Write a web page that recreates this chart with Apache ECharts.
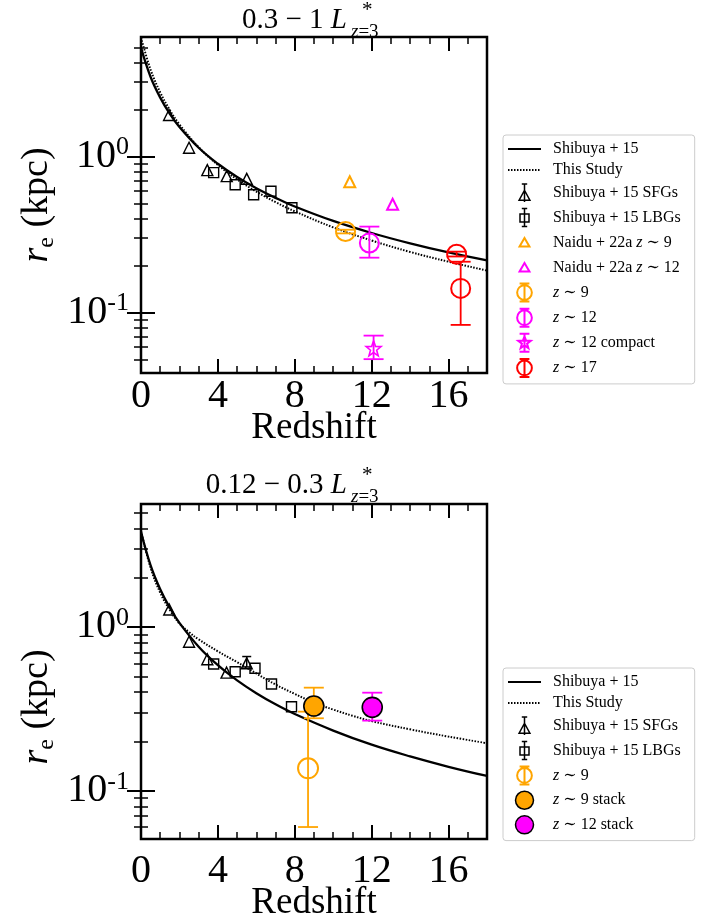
<!DOCTYPE html>
<html><head><meta charset="utf-8">
<script src="https://cdn.jsdelivr.net/npm/echarts@6/dist/echarts.min.js"></script>
<style>html,body{margin:0;padding:0;background:#fff}#c{width:705px;height:919px}</style>
</head><body><div id="c"></div>
<script>
// ---------------- data: top panel (0.3-1 L*) ----------------
const curveZTop = [0,0.5,1,1.5,2,3,4,5,6,7,8,10,12,14,16,18];
const shibTop   = [5.0,3.24,2.39,1.88,1.55,1.14,0.90,0.74,0.627,0.544,0.479,0.387,0.324,0.278,0.243,0.216];
const studyTop  = [5.8,3.61,2.58,1.99,1.61,1.15,0.885,0.715,0.597,0.511,0.446,0.352,0.290,0.245,0.212,0.186];
const sfgZTop = [1.46,2.50,3.45,4.46,5.50];
const sfgRTop = [1.85,1.14,0.82,0.75,0.72];
const lbgZTop = [3.78,4.90,5.86,6.76,7.85];
const lbgRTop = [0.79,0.66,0.57,0.60,0.47];
const naidu9Z = [10.86], naidu9R = [0.69];
const naidu12Z = [13.09], naidu12R = [0.495];
const z9ZTop = [10.64], z9RTop = [0.331], z9LoTop = [0.322], z9HiTop = [0.340];
const z12ZTop = [11.88], z12RTop = [0.279], z12LoTop = [0.225], z12HiTop = [0.356];
const z12cZ = [12.10], z12cR = [0.059], z12cLo = [0.0503], z12cHi = [0.0712];
const z17Z = [16.42,16.63], z17R = [0.237,0.143], z17Lo = [0.229,0.0834], z17Hi = [0.246,0.212];

// ---------------- data: bottom panel (0.12-0.3 L*) ----------------
const curveZBot = [0,0.5,1,1.5,2,3,4,5,6,7,8,10,12,14,16,18];
const shibBot   = [3.82,2.38,1.70,1.31,1.06,0.758,0.584,0.472,0.394,0.337,0.294,0.233,0.191,0.162,0.140,0.123];
const studyZBot = [0,0.5,1,1.5,2,2.5,3,4,5,6,7,8,9,10,11,12,14,16,18];
const studyBot  = [3.85,2.30,1.62,1.27,1.05,0.93,0.84,0.71,0.61,0.52,0.445,0.39,0.345,0.313,0.287,0.266,0.237,0.214,0.195];
const sfgZBot = [1.47,2.50,3.45,4.45,5.50];
const sfgRBot = [1.28,0.813,0.635,0.526,0.600];
const sfgErrZBot = [5.50], sfgErrLoBot = [0.57], sfgErrHiBot = [0.66];
const lbgZBot = [3.78,4.90,5.93,6.79,7.83];
const lbgRBot = [0.594,0.533,0.560,0.449,0.326];
const z9ZBot = [8.69], z9RBot = [0.137], z9LoBot = [0.060], z9HiBot = [0.304];
const z9sZ = [8.99], z9sR = [0.329], z9sLo = [0.277], z9sHi = [0.426];
const z12sZ = [12.03], z12sR = [0.323], z12sLo = [0.268], z12sHi = [0.397];

// ---------------- ticks / ranges ----------------
const xMajor = [0,4,8,12,16];
const xMinor = [1,2,3,5,6,7,9,10,11,13,14,15,17];
const yMajor = [0.1,1];
const yMinor = [0.05,0.06,0.07,0.08,0.09,0.2,0.3,0.4,0.5,0.6,0.7,0.8,0.9,2,3,4,5];
const X_RANGE = [0,18];
const Y_TOP = [0.041,5.85];
const Y_BOT = [0.0507,5.64];

// ---------------- styles ----------------
const FONT = '"Liberation Serif","DejaVu Serif",serif';
const ORANGE = '#FFA500', MAGENTA = '#FF00FF', RED = '#FF0000', BLACK = '#000000';
const STAR = 'path://M10 2L11.94 7.33L17.61 7.53L13.14 11.02L14.7 16.47L10 13.3L5.3 16.47L6.86 11.02L2.39 7.53L8.06 7.33Z';
const ICON_TRI_ERR = 'path://M8 0L8 20M5 0L11 0M8 7L14 18L2 18Z';
const ICON_SQ_ERR = 'path://M8 0L8 20M5 0L11 0M5 20L11 20M3 6L13 6L13 15L3 15Z';
const ICON_CIRC_ERR = 'path://M10 0L10 22M4 0L16 0M4 22L16 22M1 11A9 9 0 1 1 19 11A9 9 0 1 1 1 11Z';
const ICON_STAR_ERR = 'path://M10 0L10 22M4 0L16 0M4 22L16 22M10 3L11.94 8.33L17.61 8.53L13.14 12.02L14.7 17.47L10 14.3L5.3 17.47L6.86 12.02L2.39 8.53L8.06 8.33Z';
const ICON_SMALL_TRI = 'path://M0 0M20 20M10 5L15.5 14.5L4.5 14.5Z';

const zip2 = (a,b) => a.map((v,i)=>[v,b[i]]);
const zip3 = (a,b,c) => a.map((v,i)=>[v,b[i],c[i]]);

function xAxes(g, labelMargin, nameGap) {
  const base = {type:'value', gridIndex:g, min:X_RANGE[0], max:X_RANGE[1], splitLine:{show:false}, axisLine:{show:false}, minorTick:{show:false}};
  const major = {show:true, inside:true, length:14, customValues:xMajor, lineStyle:{color:BLACK,width:2}};
  const minor = {show:true, inside:true, length:7, customValues:xMinor, lineStyle:{color:BLACK,width:1.5}};
  return [
    Object.assign({}, base, {position:'bottom', axisTick:major,
      axisLabel:{show:true, customValues:xMajor, margin:labelMargin, fontSize:40, fontFamily:FONT, color:BLACK},
      name:'Redshift', nameLocation:'middle', nameGap:nameGap, nameMoveOverlap:false,
      nameTextStyle:{fontSize:37, fontFamily:FONT, color:BLACK}}),
    Object.assign({}, base, {position:'top', axisTick:major, axisLabel:{show:false}}),
    Object.assign({}, base, {position:'bottom', axisTick:minor, axisLabel:{show:false}}),
    Object.assign({}, base, {position:'top', axisTick:minor, axisLabel:{show:false}})
  ];
}
function yAxes(g, ext) {
  const base = {type:'log', logBase:10, gridIndex:g, min:ext[0], max:ext[1], splitLine:{show:false}, axisLine:{show:false}, minorTick:{show:false}};
  const major = {show:true, inside:true, length:14, customValues:yMajor, lineStyle:{color:BLACK,width:2}};
  const minor = {show:true, inside:true, length:7, customValues:yMinor, lineStyle:{color:BLACK,width:1.5}};
  return [
    Object.assign({}, base, {position:'left', axisTick:major,
      axisLabel:{show:true, customValues:yMajor, margin:12, color:BLACK,
        formatter: v => v < 0.5 ? '{b|10}{s|-1}' : '{b|10}{s|0}',
        rich:{b:{fontSize:40, fontFamily:FONT, color:BLACK, lineHeight:44},
              s:{fontSize:26, fontFamily:FONT, color:BLACK, lineHeight:22, verticalAlign:'top'}}}}),
    Object.assign({}, base, {position:'right', axisTick:major, axisLabel:{show:false}}),
    Object.assign({}, base, {position:'left', axisTick:minor, axisLabel:{show:false}}),
    Object.assign({}, base, {position:'right', axisTick:minor, axisLabel:{show:false}})
  ];
}

function lineSeries(name, g, xs, ys, dotted) {
  return {type:'line', name, xAxisIndex:4*g, yAxisIndex:4*g, data:zip2(xs,ys), smooth:0.4, showSymbol:false, symbol:'none',
    lineStyle:{color:BLACK, width: dotted ? 2 : 2.3, type: dotted ? [1.5,1.5] : 'solid'}, itemStyle:{color:BLACK}, z:2, silent:true};
}
function scatterSeries(name, g, xs, ys, symbol, size, color, fill, bw) {
  return {type:'scatter', name, xAxisIndex:4*g, yAxisIndex:4*g, data:zip2(xs,ys), symbol, symbolSize:size,
    itemStyle:{color: fill || 'transparent', borderColor:color, borderWidth:bw, opacity:1}, z:5, silent:true};
}
function errSeries(name, g, xs, lo, hi, color, cap, lw) {
  return {type:'custom', name, xAxisIndex:4*g, yAxisIndex:4*g, data:zip3(xs,lo,hi), z:4, silent:true,
    renderItem: function(params, api) {
      const x = api.value(0);
      const p1 = api.coord([x, api.value(1)]);
      const p2 = api.coord([x, api.value(2)]);
      const st = {stroke:color, lineWidth:lw};
      return {type:'group', children:[
        {type:'line', shape:{x1:p1[0], y1:p1[1], x2:p2[0], y2:p2[1]}, style:st},
        {type:'line', shape:{x1:p1[0]-cap/2, y1:p1[1], x2:p1[0]+cap/2, y2:p1[1]}, style:st},
        {type:'line', shape:{x1:p2[0]-cap/2, y1:p2[1], x2:p2[0]+cap/2, y2:p2[1]}, style:st}
      ]};
    }};
}

const LABELS = {
  tShib:'{g| }{n|Shibuya + 15}', tStudy:'{g| }{n|This Study}',
  tSFG:'{g| }{n|Shibuya + 15 SFGs}', tLBG:'{g| }{n|Shibuya + 15 LBGs}',
  tN9:'{g| }{n|Naidu + 22a }{i|z}{n| ∼ 9}', tN12:'{g| }{n|Naidu + 22a }{i|z}{n| ∼ 12}',
  tZ9:'{g| }{i|z}{n| ∼ 9}', tZ12:'{g| }{i|z}{n| ∼ 12}', tZ12c:'{g| }{i|z}{n| ∼ 12 compact}', tZ17:'{g| }{i|z}{n| ∼ 17}',
  bShib:'{g| }{n|Shibuya + 15}', bStudy:'{g| }{n|This Study}',
  bSFG:'{g| }{n|Shibuya + 15 SFGs}', bLBG:'{g| }{n|Shibuya + 15 LBGs}',
  bZ9:'{g| }{i|z}{n| ∼ 9}', bZ9s:'{g| }{i|z}{n| ∼ 9 stack}', bZ12s:'{g| }{i|z}{n| ∼ 12 stack}'
};
const legendText = {fontSize:16, fontFamily:FONT, color:BLACK,
  rich:{g:{width:7}, n:{fontSize:16, fontFamily:FONT, color:BLACK}, i:{fontSize:16, fontFamily:FONT, fontStyle:'italic', color:BLACK}}};
const hollow = (c, w) => ({color:'transparent', borderColor:c, borderWidth:w});
const noSym = {opacity:0};
function legend(top, items) {
  return {orient:'vertical', left:503, top:top, itemWidth:33, itemHeight:18, itemGap:5.1,
    padding:[6,14,6,4], backgroundColor:'#fff', borderColor:'#cccccc', borderWidth:1, borderRadius:3,
    selectedMode:false, data:items, formatter: n => LABELS[n], textStyle:legendText};
}
const legendTop = legend(135, [
  {name:'tShib', itemStyle:noSym}, {name:'tStudy', itemStyle:noSym},
  {name:'tSFG', icon:ICON_TRI_ERR, itemStyle:hollow(BLACK,1.5)},
  {name:'tLBG', icon:ICON_SQ_ERR, itemStyle:hollow(BLACK,1.5)},
  {name:'tN9', icon:ICON_SMALL_TRI, itemStyle:hollow(ORANGE,2)},
  {name:'tN12', icon:ICON_SMALL_TRI, itemStyle:hollow(MAGENTA,2)},
  {name:'tZ9', icon:ICON_CIRC_ERR, itemStyle:hollow(ORANGE,2)},
  {name:'tZ12', icon:ICON_CIRC_ERR, itemStyle:hollow(MAGENTA,2)},
  {name:'tZ12c', icon:ICON_STAR_ERR, itemStyle:hollow(MAGENTA,2)},
  {name:'tZ17', icon:ICON_CIRC_ERR, itemStyle:hollow(RED,2)}
]);
const legendBot = legend(668, [
  {name:'bShib', itemStyle:noSym}, {name:'bStudy', itemStyle:noSym},
  {name:'bSFG', icon:ICON_TRI_ERR, itemStyle:hollow(BLACK,1.5)},
  {name:'bLBG', icon:ICON_SQ_ERR, itemStyle:hollow(BLACK,1.5)},
  {name:'bZ9', icon:ICON_CIRC_ERR, itemStyle:hollow(ORANGE,2)},
  {name:'bZ9s', icon:'circle', itemStyle:{color:ORANGE, borderColor:BLACK, borderWidth:1.5}},
  {name:'bZ12s', icon:'circle', itemStyle:{color:MAGENTA, borderColor:BLACK, borderWidth:1.5}}
]);

function titleGraphics(y, main) {
  return [
    {type:'text', x:347, y:y, style:{text:'{n|'+main+'}{i|L}', align:'right', verticalAlign:'middle',
      rich:{n:{fontSize:29, fontFamily:FONT, fill:BLACK}, i:{fontSize:29, fontFamily:FONT, fontStyle:'italic', fill:BLACK}}}},
    {type:'text', x:362, y:y-10, style:{text:'*', fontSize:21, fontFamily:FONT, fill:BLACK, align:'left', verticalAlign:'middle'}},
    {type:'text', x:351, y:y+12, style:{text:'{i|z}{n|=3}', align:'left', verticalAlign:'middle',
      rich:{n:{fontSize:19, fontFamily:FONT, fill:BLACK}, i:{fontSize:19, fontFamily:FONT, fontStyle:'italic', fill:BLACK}}}}
  ];
}
function ylabelGraphic(x, y) {
  return {type:'text', x:x, y:y, rotation:Math.PI/2, style:{text:'{r|r}{e|e}{n| (kpc)}', align:'center', verticalAlign:'middle',
    rich:{r:{fontSize:38, fontFamily:FONT, fontStyle:'italic', fill:BLACK, lineHeight:44},
          e:{fontSize:24, fontFamily:FONT, fill:BLACK, lineHeight:14, verticalAlign:'bottom'},
          n:{fontSize:38, fontFamily:FONT, fill:BLACK, lineHeight:44}}}};
}

const option = {
  animation:false,
  backgroundColor:'#ffffff',
  grid:[
    {left:141, top:37, width:346, height:336, show:true, borderColor:BLACK, borderWidth:2.5, backgroundColor:'transparent', z:10, outerBoundsMode:'none', containLabel:false},
    {left:141, top:504, width:346, height:335, show:true, borderColor:BLACK, borderWidth:2.5, backgroundColor:'transparent', z:10, outerBoundsMode:'none', containLabel:false}
  ],
  xAxis: [].concat(xAxes(0, 3, 37), xAxes(1, 12, 46)),
  yAxis: [].concat(yAxes(0, Y_TOP), yAxes(1, Y_BOT)),
  legend:[legendTop, legendBot],
  graphic:[].concat(titleGraphics(20,'0.3 − 1 '), titleGraphics(485,'0.12 − 0.3 '), [ylabelGraphic(37,205), ylabelGraphic(37,707)]),
  series:[
    lineSeries('tShib', 0, curveZTop, shibTop, false),
    lineSeries('tStudy', 0, curveZTop, studyTop, true),
    scatterSeries('tSFG', 0, sfgZTop, sfgRTop, 'triangle', 11, BLACK, null, 1.4),
    scatterSeries('tLBG', 0, lbgZTop, lbgRTop, 'rect', 10, BLACK, null, 1.4),
    scatterSeries('tN9', 0, naidu9Z, naidu9R, 'triangle', 11, ORANGE, null, 2),
    scatterSeries('tN12', 0, naidu12Z, naidu12R, 'triangle', 11, MAGENTA, null, 2),
    errSeries('eZ9t', 0, z9ZTop, z9LoTop, z9HiTop, ORANGE, 20, 1.8),
    errSeries('eZ12t', 0, z12ZTop, z12LoTop, z12HiTop, MAGENTA, 20, 1.8),
    errSeries('eZ12c', 0, z12cZ, z12cLo, z12cHi, MAGENTA, 20, 1.8),
    errSeries('eZ17', 0, z17Z, z17Lo, z17Hi, RED, 20, 1.8),
    scatterSeries('tZ9', 0, z9ZTop, z9RTop, 'circle', 19, ORANGE, null, 2),
    scatterSeries('tZ12', 0, z12ZTop, z12RTop, 'circle', 19, MAGENTA, null, 2),
    scatterSeries('tZ12c', 0, z12cZ, z12cR, STAR, 15, MAGENTA, null, 1.6),
    scatterSeries('tZ17', 0, z17Z, z17R, 'circle', 19, RED, null, 2),

    lineSeries('bShib', 1, curveZBot, shibBot, false),
    lineSeries('bStudy', 1, studyZBot, studyBot, true),
    errSeries('eSFGb', 1, sfgErrZBot, sfgErrLoBot, sfgErrHiBot, BLACK, 9, 1.5),
    scatterSeries('bSFG', 1, sfgZBot, sfgRBot, 'triangle', 11, BLACK, null, 1.4),
    scatterSeries('bLBG', 1, lbgZBot, lbgRBot, 'rect', 10, BLACK, null, 1.4),
    errSeries('eZ9b', 1, z9ZBot, z9LoBot, z9HiBot, ORANGE, 20, 1.8),
    scatterSeries('bZ9', 1, z9ZBot, z9RBot, 'circle', 20, ORANGE, null, 2),
    errSeries('eZ9s', 1, z9sZ, z9sLo, z9sHi, ORANGE, 20, 1.8),
    errSeries('eZ12s', 1, z12sZ, z12sLo, z12sHi, MAGENTA, 20, 1.8),
    scatterSeries('bZ9s', 1, z9sZ, z9sR, 'circle', 20, BLACK, ORANGE, 1.6),
    scatterSeries('bZ12s', 1, z12sZ, z12sR, 'circle', 20, BLACK, MAGENTA, 1.6)
  ]
};
const chart = echarts.init(document.getElementById('c'), null, {renderer:'canvas'});
chart.setOption(option);
</script>
</body></html>
